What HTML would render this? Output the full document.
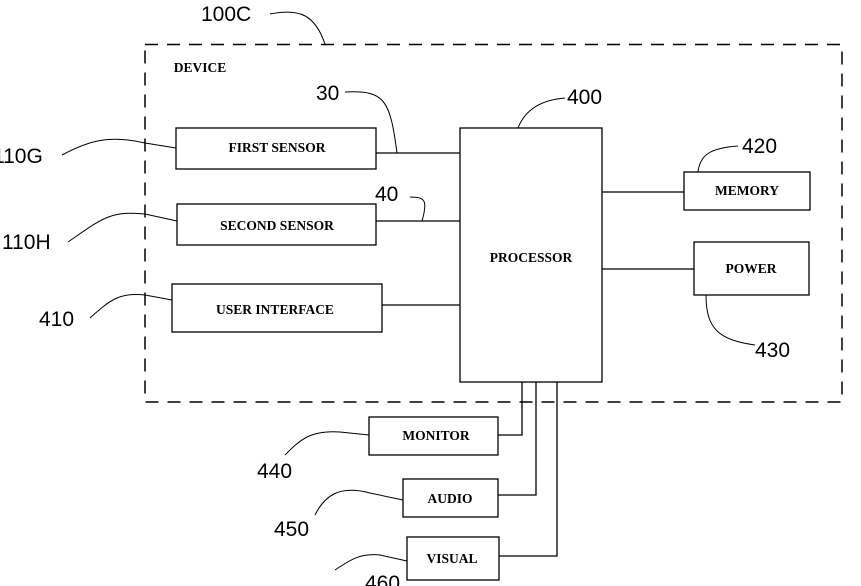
<!DOCTYPE html>
<html><head><meta charset="utf-8"><style>html,body{margin:0;padding:0;background:#fff}svg{display:block}</style></head>
<body>
<svg width="861" height="586" viewBox="0 0 861 586" xmlns="http://www.w3.org/2000/svg">
<g fill="none" stroke="#000">
<rect x="145" y="44.5" width="697" height="357.5" stroke-width="1.5" stroke-dasharray="13,9"/>
<g stroke-width="1.3">
<rect x="176" y="128" width="200" height="41"/>
<rect x="177" y="204" width="199" height="41"/>
<rect x="172" y="284" width="210" height="48"/>
<rect x="460" y="128" width="142" height="254"/>
<rect x="684" y="172" width="126" height="38"/>
<rect x="694" y="242" width="115" height="53"/>
<rect x="369" y="417" width="129" height="38"/>
<rect x="403" y="479" width="95" height="38"/>
<rect x="407" y="537" width="92" height="43"/>
<path d="M376 153H460M376 221H460M382 305H460M602 192H684M602 269H694"/>
<path d="M522 382V435H498M536 382V495H498M557 382V556H499"/>
</g>
<g stroke-width="1">
<path d="M270 14C300 8 315 15 325 44"/>
<path d="M345 92C385 90 390 100 397 153"/>
<path d="M410 197C425 197 428 200 422 221"/>
<path d="M565 98C540 100 525 110 518 128"/>
<path d="M738 146C710 148 700 155 698 172"/>
<path d="M706 295C706 330 720 340 755 345"/>
<path d="M62 155C90 140 110 135 145 143L176 148"/>
<path d="M68 242C100 220 110 210 145 214L177 221"/>
<path d="M90 318C110 300 120 292 145 295L172 300"/>
<path d="M285 455C300 440 310 430 340 432L369 435"/>
<path d="M315 515C325 495 340 485 370 493L403 500"/>
<path d="M335 570C350 560 360 553 380 555L407 561"/>
</g>
</g>
<g font-family="Liberation Sans, sans-serif" font-size="21" fill="#000">
<text x="201" y="21">100C</text>
<text x="316" y="100">30</text>
<text x="567" y="104">400</text>
<text x="742" y="153">420</text>
<text x="-7" y="163">110G</text>
<text x="375" y="201">40</text>
<text x="2" y="249">110H</text>
<text x="39" y="326">410</text>
<text x="755" y="357">430</text>
<text x="257" y="478">440</text>
<text x="274" y="536">450</text>
<text x="365" y="590">460</text>
</g>
<g font-family="Liberation Serif, serif" font-size="13.5" font-weight="bold" fill="#000" text-anchor="middle">
<text x="200" y="72">DEVICE</text>
<text x="277" y="152">FIRST SENSOR</text>
<text x="277" y="230">SECOND SENSOR</text>
<text x="275" y="314">USER INTERFACE</text>
<text x="531" y="262">PROCESSOR</text>
<text x="747" y="195">MEMORY</text>
<text x="751" y="273">POWER</text>
<text x="436" y="440">MONITOR</text>
<text x="450" y="503">AUDIO</text>
<text x="452" y="563">VISUAL</text>
</g>
</svg>
</body></html>
